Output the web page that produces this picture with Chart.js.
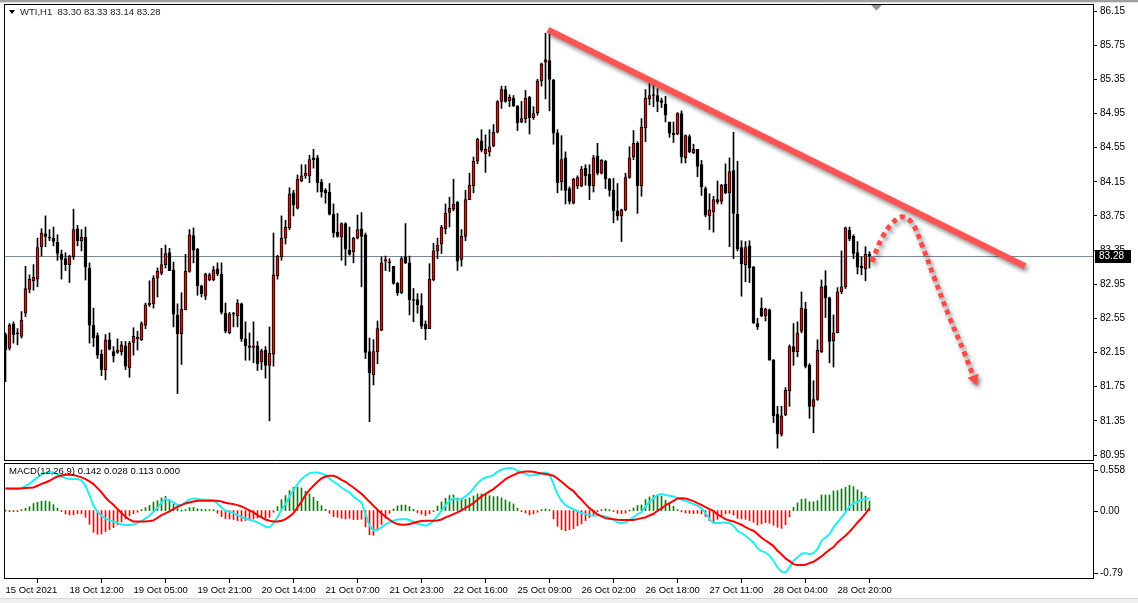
<!DOCTYPE html>
<html><head><meta charset="utf-8">
<script src="https://cdn.jsdelivr.net/npm/chart.js@4.4.1/dist/chart.umd.min.js"></script>
<style>
html,body{margin:0;padding:0;background:#fff;width:1138px;height:603px;overflow:hidden;position:relative}
canvas{position:absolute;left:0}
#main{top:0}
#macd{top:461px}
#foot{position:absolute;left:0;top:598px;width:1138px;height:5px;background:#f0f0f0;border-top:1px solid #d8d8d8}
</style></head><body>
<canvas id="main" width="1138" height="461"></canvas>
<canvas id="macd" width="1138" height="142"></canvas>
<div id="foot"></div>
<script>
// ---------- DATA ----------
const symbolLabel = "WTI,H1";
const opens = [82.36,82.20,82.48,82.38,82.34,82.61,82.89,82.99,83.01,83.39,83.54,83.50,83.49,83.44,83.30,83.25,83.18,83.27,83.60,83.46,83.50,83.14,82.47,82.35,82.13,81.95,82.30,82.16,82.15,82.16,82.23,81.97,82.27,82.31,82.30,82.47,82.71,82.72,83.02,83.08,83.18,83.32,83.12,82.59,82.37,82.65,83.10,83.52,83.36,82.93,82.81,83.00,83.00,83.13,83.07,82.61,82.38,82.60,82.58,82.72,82.31,82.23,82.21,82.23,82.04,82.18,82.00,82.13,83.05,83.27,83.49,83.61,84.02,83.84,84.16,84.22,84.22,84.43,84.43,84.15,84.05,84.03,83.77,83.56,83.50,83.66,83.35,83.33,83.49,83.60,83.53,82.16,81.89,82.16,82.41,83.22,83.21,83.16,82.96,82.85,83.27,83.20,82.77,82.77,82.70,82.48,82.43,83.00,83.34,83.42,83.60,83.79,83.83,83.91,83.24,83.51,83.94,84.10,84.39,84.63,84.48,84.50,84.57,84.73,85.09,85.23,85.10,85.13,85.04,84.85,84.89,85.14,84.90,84.96,85.33,85.55,85.57,85.34,84.72,84.15,84.43,84.07,83.90,84.10,84.10,84.31,84.24,84.10,84.45,84.25,84.39,84.18,84.05,83.81,83.75,83.82,84.20,84.44,84.60,84.10,84.78,85.12,85.17,85.16,85.10,85.06,84.85,84.72,84.71,84.95,84.43,84.68,84.49,84.53,84.35,84.07,83.75,83.80,83.94,83.92,84.12,84.02,84.28,83.77,83.38,83.18,83.40,83.15,82.49,82.67,82.58,82.65,82.06,81.43,81.19,81.42,81.70,82.22,82.16,82.40,82.66,82.00,81.52,81.60,82.16,82.93,82.79,82.29,82.38,82.86,82.92,83.58,83.51,83.32,83.16,83.13,83.30];
const highs = [82.38,82.49,82.51,82.43,82.63,83.16,83.06,83.18,83.49,83.60,83.75,83.59,83.62,83.53,83.35,83.32,83.29,83.83,83.64,83.59,83.62,83.20,82.67,82.38,82.18,82.36,82.38,82.22,82.31,82.28,82.28,82.28,82.44,82.40,82.51,82.73,82.99,83.05,83.14,83.37,83.41,83.37,83.21,82.72,82.85,83.30,83.59,83.61,83.37,82.94,83.08,83.08,83.16,83.20,83.20,82.73,82.62,82.62,82.77,82.73,82.51,82.38,82.51,82.28,82.19,82.22,82.45,83.55,83.29,83.75,83.70,84.08,84.05,84.23,84.35,84.35,84.46,84.53,84.46,84.18,84.07,84.13,83.89,83.78,83.67,83.67,83.62,83.50,83.76,83.79,83.55,82.32,82.30,82.52,83.27,83.28,83.25,83.16,82.97,83.27,83.66,83.28,82.90,82.84,82.84,82.52,83.19,83.43,83.49,83.64,83.89,83.97,84.18,83.92,83.59,84.05,84.25,84.44,84.66,84.76,84.70,84.76,84.82,85.10,85.27,85.27,85.17,85.16,85.04,85.09,85.22,85.15,85.03,85.35,85.54,85.89,85.93,85.35,84.76,84.69,84.50,84.09,84.19,84.22,84.33,84.35,84.35,84.46,84.60,84.41,84.40,84.19,84.19,84.13,83.83,84.25,84.56,84.75,84.62,84.89,85.23,85.32,85.30,85.24,85.13,85.15,84.85,84.85,84.96,84.98,84.70,84.70,84.59,84.53,84.40,84.09,84.01,83.98,84.16,84.12,84.36,84.43,84.73,84.39,83.46,83.45,83.46,83.16,82.55,82.79,82.67,82.66,82.07,81.52,81.52,81.74,82.24,82.49,82.51,82.86,82.74,82.02,81.82,82.30,83.00,83.11,82.80,82.59,82.91,83.34,83.62,83.62,83.53,83.45,83.27,83.39,83.33];
const lows = [81.81,82.18,82.26,82.24,82.32,82.57,82.85,82.88,82.92,83.28,83.39,83.46,83.40,83.23,83.01,83.11,82.97,83.24,83.40,83.34,83.00,82.26,82.22,82.08,81.88,81.83,82.18,82.04,82.14,82.12,81.95,81.86,82.12,82.18,82.29,82.43,82.69,82.67,82.80,83.06,83.14,83.11,82.45,81.67,82.01,82.65,83.09,83.20,82.82,82.80,82.77,82.99,82.99,83.05,82.60,82.38,82.37,82.45,82.45,82.28,82.06,82.06,82.03,81.94,81.95,81.85,81.35,81.99,83.01,83.23,83.42,83.59,83.75,83.83,84.15,84.19,84.14,84.31,84.03,83.97,83.90,83.76,83.50,83.50,83.23,83.17,83.29,83.20,83.48,82.92,82.08,81.34,81.77,82.02,82.41,83.11,83.10,82.95,82.82,82.84,83.19,82.59,82.51,82.61,82.43,82.30,82.43,82.99,83.25,83.31,83.54,83.62,83.81,83.11,83.16,83.46,83.94,84.02,84.36,84.50,84.26,84.45,84.56,84.72,85.01,85.08,85.03,85.03,84.75,84.84,84.84,84.71,84.88,84.93,85.27,85.12,84.98,84.59,84.02,84.05,83.89,83.89,83.89,84.07,84.09,84.11,83.94,84.03,84.23,84.24,84.07,83.98,83.67,83.70,83.45,83.81,84.19,84.41,83.78,83.98,84.62,85.05,85.03,84.97,85.02,84.85,84.67,84.61,84.70,84.37,84.37,84.49,84.48,84.21,83.99,83.74,83.59,83.56,83.89,83.89,84.01,83.39,83.25,83.34,82.81,82.98,82.97,82.49,82.42,82.57,82.52,82.06,81.33,81.03,81.17,81.41,81.52,82.00,82.10,82.38,81.97,81.38,81.21,81.59,82.15,82.56,82.03,81.98,82.38,82.84,82.90,83.46,83.25,83.07,83.06,82.99,83.14];
const closes = [82.18,82.47,82.36,82.37,82.53,82.90,83.01,83.03,83.38,83.55,83.51,83.49,83.45,83.31,83.24,83.18,83.28,83.59,83.46,83.50,83.15,82.47,82.32,82.12,81.95,82.30,82.19,82.11,82.18,82.24,81.99,82.26,82.34,82.33,82.49,82.71,82.73,83.02,83.10,83.18,83.31,83.11,82.60,82.37,82.66,83.10,83.53,83.35,82.93,82.84,83.07,83.06,83.12,83.07,82.62,82.40,82.60,82.61,82.73,82.31,82.23,82.21,82.23,82.02,82.17,82.00,82.14,83.06,83.28,83.49,83.62,84.01,83.88,84.18,84.22,84.25,84.41,84.41,84.14,84.03,84.02,83.77,83.55,83.51,83.66,83.36,83.30,83.49,83.59,83.51,82.15,81.91,82.16,82.43,83.20,83.24,83.20,82.96,82.85,83.25,83.20,82.77,82.76,82.71,82.46,82.43,83.01,83.34,83.41,83.62,83.78,83.84,83.89,83.22,83.51,83.94,84.11,84.39,84.65,84.52,84.53,84.56,84.73,85.09,85.23,85.09,85.14,85.04,84.84,84.89,85.13,84.90,84.95,85.33,85.53,85.58,85.35,84.72,84.14,84.41,84.05,83.92,84.18,84.20,84.30,84.22,84.10,84.43,84.25,84.40,84.18,84.05,83.81,83.75,83.82,84.20,84.43,84.60,84.10,84.79,85.13,85.16,85.16,85.09,85.08,84.93,84.72,84.70,84.95,84.44,84.69,84.50,84.53,84.33,84.09,83.76,83.82,83.94,83.91,84.11,84.02,84.27,83.78,83.36,83.19,83.38,83.14,82.50,82.45,82.58,82.66,82.06,81.41,81.20,81.41,81.71,82.22,82.16,82.38,82.67,81.99,81.52,81.60,82.18,82.92,82.79,82.28,82.38,82.86,82.92,83.61,83.48,83.31,83.15,83.14,83.30,83.28];

const macdMain = [0.260,0.256,0.252,0.252,0.264,0.291,0.314,0.354,0.389,0.424,0.443,0.455,0.447,0.428,0.400,0.381,0.369,0.369,0.369,0.354,0.291,0.182,0.057,-0.014,-0.061,-0.092,-0.115,-0.131,-0.146,-0.162,-0.170,-0.170,-0.162,-0.146,-0.123,-0.092,-0.061,-0.014,0.033,0.096,0.135,0.119,0.096,0.068,0.064,0.096,0.131,0.143,0.135,0.131,0.127,0.127,0.123,0.084,0.037,-0.002,-0.014,-0.029,-0.053,-0.076,-0.092,-0.107,-0.119,-0.139,-0.162,-0.189,-0.197,-0.146,-0.080,0.010,0.076,0.166,0.244,0.311,0.369,0.408,0.439,0.447,0.447,0.436,0.416,0.377,0.338,0.311,0.271,0.240,0.213,0.166,0.127,0.096,-0.041,-0.178,-0.232,-0.225,-0.197,-0.162,-0.139,-0.119,-0.104,-0.100,-0.100,-0.111,-0.131,-0.154,-0.166,-0.178,-0.158,-0.123,-0.061,-0.002,0.064,0.115,0.143,0.127,0.135,0.166,0.205,0.260,0.322,0.361,0.389,0.400,0.416,0.455,0.479,0.494,0.498,0.494,0.467,0.447,0.432,0.408,0.416,0.424,0.439,0.447,0.428,0.311,0.193,0.115,0.064,0.037,0.018,-0.006,-0.029,-0.041,-0.053,-0.061,-0.053,-0.061,-0.068,-0.084,-0.107,-0.139,-0.146,-0.139,-0.111,-0.080,-0.041,-0.021,0.049,0.104,0.143,0.182,0.193,0.182,0.174,0.166,0.146,0.131,0.115,0.096,0.076,0.057,0.029,-0.029,-0.100,-0.146,-0.146,-0.143,-0.139,-0.146,-0.178,-0.236,-0.264,-0.295,-0.334,-0.373,-0.443,-0.475,-0.490,-0.529,-0.588,-0.666,-0.717,-0.725,-0.666,-0.588,-0.549,-0.506,-0.498,-0.510,-0.498,-0.451,-0.354,-0.315,-0.275,-0.197,-0.139,-0.080,-0.021,0.049,0.084,0.104,0.127,0.135,0.142];
const macdSignal = [0.260,0.260,0.260,0.260,0.260,0.264,0.268,0.271,0.291,0.314,0.330,0.350,0.377,0.400,0.412,0.420,0.420,0.416,0.404,0.389,0.369,0.342,0.311,0.264,0.213,0.154,0.107,0.068,0.018,-0.029,-0.072,-0.107,-0.127,-0.127,-0.127,-0.127,-0.123,-0.115,-0.084,-0.053,-0.033,-0.010,0.018,0.045,0.064,0.084,0.096,0.107,0.115,0.115,0.115,0.115,0.115,0.115,0.107,0.092,0.084,0.076,0.064,0.049,0.025,0.002,-0.021,-0.053,-0.080,-0.104,-0.119,-0.127,-0.127,-0.119,-0.100,-0.068,-0.029,0.037,0.104,0.182,0.244,0.291,0.338,0.377,0.400,0.408,0.408,0.389,0.361,0.338,0.303,0.271,0.232,0.197,0.150,0.104,0.057,0.010,-0.033,-0.072,-0.107,-0.139,-0.158,-0.166,-0.166,-0.158,-0.146,-0.131,-0.123,-0.119,-0.119,-0.119,-0.115,-0.104,-0.080,-0.061,-0.041,-0.021,0.002,0.033,0.057,0.088,0.127,0.166,0.193,0.225,0.252,0.291,0.330,0.369,0.396,0.416,0.439,0.451,0.459,0.459,0.455,0.443,0.436,0.428,0.420,0.408,0.377,0.338,0.299,0.260,0.229,0.174,0.127,0.076,0.029,-0.006,-0.045,-0.068,-0.088,-0.096,-0.100,-0.107,-0.111,-0.111,-0.111,-0.111,-0.100,-0.088,-0.080,-0.057,-0.037,-0.002,0.025,0.061,0.088,0.115,0.143,0.146,0.143,0.127,0.111,0.088,0.068,0.041,0.018,-0.002,-0.045,-0.072,-0.100,-0.115,-0.127,-0.146,-0.166,-0.193,-0.217,-0.236,-0.275,-0.318,-0.350,-0.381,-0.416,-0.471,-0.510,-0.560,-0.592,-0.627,-0.639,-0.639,-0.635,-0.615,-0.600,-0.568,-0.537,-0.498,-0.459,-0.428,-0.373,-0.334,-0.295,-0.248,-0.197,-0.139,-0.090,-0.035,0.028];
const macdHist = [0.000,-0.004,-0.008,-0.008,0.004,0.027,0.046,0.083,0.098,0.110,0.113,0.105,0.070,0.028,-0.012,-0.039,-0.051,-0.047,-0.035,-0.035,-0.078,-0.160,-0.254,-0.278,-0.274,-0.246,-0.222,-0.199,-0.164,-0.133,-0.098,-0.063,-0.035,-0.019,0.004,0.035,0.062,0.101,0.117,0.149,0.168,0.129,0.078,0.023,0.000,0.012,0.035,0.036,0.020,0.016,0.012,0.012,0.008,-0.031,-0.070,-0.094,-0.098,-0.105,-0.117,-0.125,-0.117,-0.109,-0.098,-0.086,-0.082,-0.085,-0.078,-0.019,0.047,0.129,0.176,0.234,0.273,0.274,0.265,0.226,0.195,0.156,0.109,0.059,0.016,-0.031,-0.070,-0.078,-0.090,-0.098,-0.090,-0.105,-0.105,-0.101,-0.191,-0.282,-0.289,-0.235,-0.164,-0.090,-0.032,0.020,0.054,0.066,0.066,0.047,0.015,-0.023,-0.043,-0.059,-0.039,-0.004,0.054,0.102,0.144,0.176,0.184,0.148,0.133,0.133,0.148,0.172,0.195,0.195,0.196,0.175,0.164,0.164,0.149,0.125,0.102,0.078,0.028,-0.004,-0.027,-0.051,-0.039,-0.019,0.003,0.019,0.008,-0.097,-0.184,-0.223,-0.235,-0.223,-0.211,-0.180,-0.156,-0.117,-0.082,-0.055,-0.008,0.007,0.020,0.012,-0.007,-0.032,-0.035,-0.028,0.000,0.031,0.059,0.067,0.129,0.161,0.180,0.184,0.168,0.121,0.086,0.051,0.003,-0.015,-0.028,-0.031,-0.035,-0.031,-0.039,-0.070,-0.118,-0.144,-0.101,-0.071,-0.039,-0.031,-0.051,-0.090,-0.098,-0.102,-0.117,-0.137,-0.168,-0.157,-0.140,-0.148,-0.172,-0.195,-0.207,-0.165,-0.074,0.039,0.090,0.133,0.137,0.105,0.102,0.117,0.183,0.183,0.184,0.231,0.234,0.254,0.274,0.297,0.281,0.243,0.217,0.170,0.113];

const priceTicks = [86.15,85.75,85.35,84.95,84.55,84.15,83.75,83.35,82.95,82.55,82.15,81.75,81.35,80.95];
const priceTickLabels = ["86.15","85.75","85.35","84.95","84.55","84.15","83.75","83.35","82.95","82.55","82.15","81.75","81.35","80.95"];
const macdTicks = [0.558, 0, -0.79];
const macdTickLabels = ["0.558","0.00","-0.79"];
const timeTickIndex = [0,16,32,48,64,80,96,112,128,144,160,176,192,208];
const timeTickLabels = ["15 Oct 2021","18 Oct 12:00","19 Oct 05:00","19 Oct 21:00","20 Oct 14:00","21 Oct 07:00","21 Oct 23:00","22 Oct 16:00","25 Oct 09:00","26 Oct 02:00","26 Oct 18:00","27 Oct 11:00","28 Oct 04:00","28 Oct 20:00"];

// hand-drawn annotations (in bar index / price units)
const trendX = [135.6, 254.9];
const trendY = [85.93, 83.16];
const arrowX = [216.6, 219.1, 221.6, 224.1, 226.6, 229.1, 232.4, 236.1, 239.6, 242.2];
const arrowY = [83.21, 83.49, 83.66, 83.74, 83.67, 83.41, 83.00, 82.55, 82.16, 81.84];

// ---------- CHARTS ----------
const FONT = '"Liberation Sans", Arial, sans-serif';
Chart.defaults.font.family = FONT;
Chart.defaults.font.size = 9.5;
Chart.defaults.color = '#000';
Chart.defaults.animation = false;

const N = closes.length;
const idx = closes.map((_, i) => i);
const XMIN = -0.375, XMAX = 271.875;
const YMAX = 86.2203, YMIN = 80.8915;

const shadowPlugin = {
  id: 'shadow',
  beforeDatasetDraw(chart, args) {
    const ds = chart.data.datasets[args.index];
    if (ds.shadow) {
      const c = chart.ctx; c.save();
      c.shadowColor = 'rgba(0,0,0,0.45)'; c.shadowBlur = 4; c.shadowOffsetX = 2; c.shadowOffsetY = 3;
    }
  },
  afterDatasetDraw(chart, args) {
    const ds = chart.data.datasets[args.index];
    if (ds.shadow) chart.ctx.restore();
  }
};

function noPad(s) { s.paddingTop = 0; s.paddingBottom = 0; s.paddingLeft = 0; s.paddingRight = 0; }

function frame(ctx, topRow, bottomRow) {
  ctx.save();
  ctx.strokeStyle = '#000'; ctx.lineWidth = 1;
  ctx.beginPath();
  ctx.moveTo(4.5, topRow + 0.5); ctx.lineTo(1093.5, topRow + 0.5);
  ctx.moveTo(4.5, bottomRow + 0.5); ctx.lineTo(1093.5, bottomRow + 0.5);
  ctx.moveTo(4.5, topRow); ctx.lineTo(4.5, bottomRow + 1);
  ctx.moveTo(1093.5, topRow); ctx.lineTo(1093.5, bottomRow + 1);
  ctx.stroke();
  ctx.restore();
}

const mainChrome = {
  id: 'mainChrome',
  beforeDatasetsDraw(chart) {
    const ctx = chart.ctx, a = chart.chartArea;
    const y = Math.round(chart.scales.y.getPixelForValue(closes[N - 1])) + 0.5;
    ctx.save(); ctx.strokeStyle = '#7b8a9a'; ctx.lineWidth = 1;
    ctx.beginPath(); ctx.moveTo(a.left, y); ctx.lineTo(a.right, y); ctx.stroke(); ctx.restore();
  },
  afterDraw(chart) {
    const ctx = chart.ctx;
    ctx.save();
    ctx.fillStyle = '#a0a0a0'; ctx.fillRect(0, 0, 1138, 2);
    ctx.fillStyle = '#e0e0e0'; ctx.fillRect(0, 2, 1138, 1);
    ctx.restore();
    frame(ctx, 4, 460);
    ctx.save();
    ctx.fillStyle = '#000';
    ctx.beginPath(); ctx.moveTo(9, 10); ctx.lineTo(15, 10); ctx.lineTo(12, 14); ctx.closePath(); ctx.fill();
    ctx.font = '9.5px ' + FONT;
    ctx.textBaseline = 'middle'; ctx.textAlign = 'left';
    ctx.fillStyle = '#1a1a2e';
    const o = opens[N-1], h = highs[N-1], l = lows[N-1], c = closes[N-1];
    ctx.fillText(symbolLabel + '  ' + o.toFixed(2) + ' ' + h.toFixed(2) + ' ' + l.toFixed(2) + ' ' + c.toFixed(2), 20, 12.5);
    const y = Math.round(chart.scales.y.getPixelForValue(c));
    ctx.fillStyle = '#000'; ctx.fillRect(1095, y - 6, 36, 13);
    ctx.font = '10px ' + FONT;
    ctx.fillStyle = '#fff'; ctx.fillText(c.toFixed(2), 1099, y + 0.5);
    ctx.fillStyle = '#8895a3';
    ctx.beginPath(); ctx.moveTo(871, 5); ctx.lineTo(882, 5); ctx.lineTo(876.5, 10.5); ctx.closePath(); ctx.fill();
    ctx.restore();
  }
};

new Chart(document.getElementById('main'), {
  type: 'bar',
  data: {
    datasets: [
      { type: 'line', data: trendX.map((x, i) => ({ x, y: trendY[i] })), borderColor: '#ff5454', borderWidth: 6,
        pointRadius: 0, borderCapStyle: 'butt', order: 0, shadow: true },
      { type: 'line', data: arrowX.map((x, i) => ({ x, y: arrowY[i] })), borderColor: '#ff4a4a', borderWidth: 5,
        borderDash: [5, 4], tension: 0.4, pointStyle: 'triangle', pointRotation: 160,
        pointRadius: arrowX.map((_, i) => i === arrowX.length - 1 ? 7 : 0),
        pointBackgroundColor: '#ff4a4a', pointBorderWidth: 0, order: 1, shadow: true },
      { data: idx.map(i => ({ x: i, y: [Math.min(opens[i], closes[i]), Math.max(opens[i], closes[i])] })),
        backgroundColor: idx.map(i => closes[i] >= opens[i] ? '#ff0000' : '#000000'),
        borderColor: '#000', borderWidth: 1, borderSkipped: false, barThickness: 3, grouped: false, minBarLength: 1, order: 2 },
      { data: idx.map(i => ({ x: i, y: [lows[i], highs[i]] })), backgroundColor: '#000', borderWidth: 0,
        barThickness: 1, grouped: false, minBarLength: 1, order: 3 }
    ]
  },
  options: {
    responsive: false, animation: false, events: [], devicePixelRatio: 1,
    layout: { autoPadding: false, padding: { left: 4, top: 5, right: 0, bottom: 1 } },
    plugins: { legend: { display: false }, tooltip: { enabled: false } },
    scales: {
      x: { type: 'linear', min: XMIN, max: XMAX, display: false, offset: false },
      y: { type: 'linear', position: 'right', min: YMIN, max: YMAX, beginAtZero: false,
        afterFit: s => { s.width = 45; noPad(s); },
        afterBuildTicks: s => { s.ticks = priceTicks.map(v => ({ value: v })); },
        ticks: { callback: (v, i) => priceTickLabels[i], padding: 3, autoSkip: false, color: '#000', font: { size: 10 } },
        grid: { drawOnChartArea: false, drawTicks: true, tickLength: 4, color: '#000' },
        border: { display: false } }
    }
  },
  plugins: [shadowPlugin, mainChrome]
});

const macdChrome = {
  id: 'macdChrome',
  afterDraw(chart) {
    const ctx = chart.ctx, a = chart.chartArea, ys = chart.scales.y;
    frame(ctx, 2, 117);
    ctx.save();
    ctx.font = '9.5px ' + FONT;
    ctx.fillStyle = '#000'; ctx.textBaseline = 'middle'; ctx.textAlign = 'left';
    ctx.fillText('MACD(12,26,9) ' + macdMain[N-1].toFixed(3) + ' ' + macdSignal[N-1].toFixed(3) + ' ' +
      macdHist[N-1].toFixed(3) + ' 0.000', 9, 10.5);
    ctx.font = '10px ' + FONT;
    ctx.strokeStyle = '#000'; ctx.lineWidth = 1;
    macdTicks.forEach((v, i) => {
      let y = ys.getPixelForValue(v);
      y = Math.min(Math.max(y, a.top + 7), a.bottom - 5);
      y = Math.round(y);
      ctx.beginPath(); ctx.moveTo(1094, y + 0.5); ctx.lineTo(1098, y + 0.5); ctx.stroke();
      ctx.fillText(macdTickLabels[i], 1100, y + 0.5);
    });
    ctx.restore();
  }
};

new Chart(document.getElementById('macd'), {
  type: 'bar',
  data: {
    datasets: [
      { type: 'line', data: idx.map(i => ({ x: i, y: macdSignal[i] })), borderColor: '#ff0000', borderWidth: 2, pointRadius: 0, order: 0 },
      { type: 'line', data: idx.map(i => ({ x: i, y: macdMain[i] })), borderColor: '#22eef2', borderWidth: 2, pointRadius: 0, order: 1 },
      { data: idx.map(i => ({ x: i, y: macdHist[i] })), backgroundColor: macdHist.map(v => v >= 0 ? '#007f00' : '#ff0000'),
        borderWidth: 0, barThickness: 1, minBarLength: 1, grouped: false, order: 2 }
    ]
  },
  options: {
    responsive: false, animation: false, events: [], devicePixelRatio: 1,
    layout: { autoPadding: false, padding: { left: 4, top: 2, right: 0, bottom: 0 } },
    plugins: { legend: { display: false }, tooltip: { enabled: false } },
    scales: {
      x: { type: 'linear', min: XMIN, max: XMAX, offset: false, position: 'bottom',
        afterFit: s => { s.height = 25; noPad(s); },
        afterBuildTicks: s => { s.ticks = timeTickIndex.map(v => ({ value: v })); },
        ticks: { callback: (v, i) => timeTickLabels[i], autoSkip: false, maxRotation: 0, minRotation: 0,
          align: 'start', padding: 2, color: '#000' },
        grid: { drawOnChartArea: false, drawTicks: true, tickLength: 5, color: '#000' },
        border: { display: false } },
      y: { type: 'linear', position: 'right', min: -0.79, max: 0.558, beginAtZero: false,
        afterFit: s => { s.width = 45; noPad(s); },
        ticks: { display: false }, grid: { display: false }, border: { display: false } }
    }
  },
  plugins: [macdChrome]
});
</script>
</body></html>
